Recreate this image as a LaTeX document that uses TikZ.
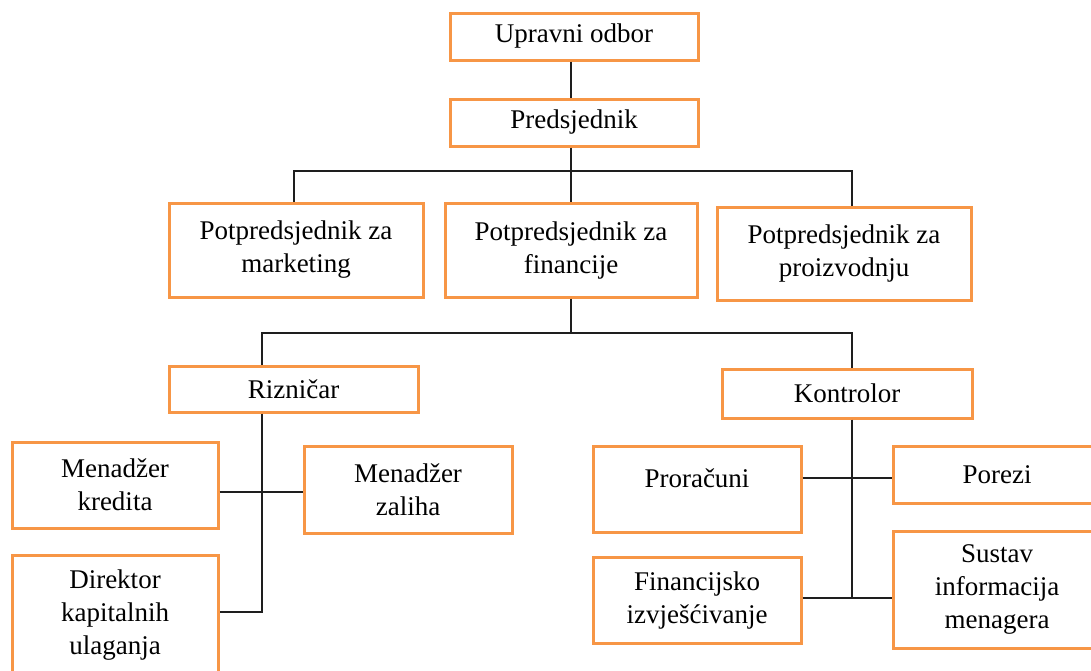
\documentclass[tikz,border=0pt]{standalone}
\usepackage{fontspec}
\setmainfont{Liberation Serif}
\definecolor{boxorange}{RGB}{247,150,70}
\definecolor{linegray}{RGB}{30,30,30}
\begin{document}
\begin{tikzpicture}[x=1pt,y=-1pt,
  orgbox/.style={draw=boxorange, line width=3pt, fill=white, rectangle,
    inner sep=0pt, align=center,
    font=\fontsize{27}{33}\selectfont},
  conn/.style={draw=linegray, line width=1.8pt},
  lbl/.style={inner sep=0pt, font=\fontsize{27}{33}\selectfont, align=center}]
\useasboundingbox (0,0) rectangle (1091,670);
% top levels
\node[orgbox, minimum width=248pt, minimum height=47pt] (uo) at (574,36.5) {Upravni odbor};
\node[orgbox, minimum width=248pt, minimum height=47pt] (pr) at (574,122.5) {Predsjednik};
\node[orgbox, minimum width=254pt, minimum height=94pt] (vpm) at (296,250) {Potpredsjednik za\\marketing};
\node[orgbox, minimum width=252pt, minimum height=94pt] (vpf) at (571,250) {Potpredsjednik za\\financije};
\node[orgbox, minimum width=254pt, minimum height=93pt] (vpp) at (844,253.5) {Potpredsjednik za\\proizvodnju};
\node[orgbox, minimum width=249pt, minimum height=46pt] (riz) at (293.5,389) {Rizničar};
\node[orgbox, minimum width=250pt, minimum height=49pt] (kon) at (847,393.5) {Kontrolor};
% treasurer branch
\node[orgbox, minimum width=206pt, minimum height=86pt] (mk) at (115,485) {Menadžer\\kredita};
\node[orgbox, minimum width=208pt, minimum height=87pt] (mz) at (408,489.5) {Menadžer\\zaliha};
\node[orgbox, minimum width=206pt, minimum height=120pt] (dk) at (115,615) {Direktor\\kapitalnih\\ulaganja};
% controller branch
\node[orgbox, minimum width=208pt, minimum height=86pt] (prc) at (697,489) {};
\node[lbl] (prct) at (697,478) {Proračuni};
\node[orgbox, minimum width=208pt, minimum height=57pt] (por) at (997,474.5) {Porezi};
\node[orgbox, minimum width=208pt, minimum height=86pt] (fin) at (697,600) {Financijsko\\izvješćivanje};
\node[orgbox, minimum width=208pt, minimum height=117pt] (sus) at (997,589.5) {Sustav\\informacija\\menagera};
% bus coordinates
\coordinate (b1) at (571,171);
\coordinate (b2) at (571,333);
\coordinate (rl) at (262,492);
\coordinate (rb) at (262,612);
\coordinate (kl1) at (852,478);
\coordinate (kl2) at (852,598);
% connectors
\draw[conn] (uo.south -| b1) -- (pr.north -| b1);
\draw[conn] (pr.south -| b1) -- (b1);
\draw[conn] (b1) -| ([xshift=-2pt]vpm.north);
\draw[conn] (b1) -- (vpf.north -| b1);
\draw[conn] (b1) -| ([xshift=8pt]vpp.north);
\draw[conn] (vpf.south -| b2) -- (b2);
\draw[conn] (b2) -| ([xshift=-31.5pt]riz.north);
\draw[conn] (b2) -| ([xshift=5pt]kon.north);
\draw[conn] ([xshift=-31.5pt]riz.south) -- (rb) -- (dk.east |- rb);
\draw[conn] (mk.east |- rl) -- (mz.west |- rl);
\draw[conn] ([xshift=5pt]kon.south) -- (kl2);
\draw[conn] (prc.east |- kl1) -- (por.west |- kl1);
\draw[conn] (fin.east |- kl2) -- (sus.west |- kl2);
\end{tikzpicture}
\end{document}
